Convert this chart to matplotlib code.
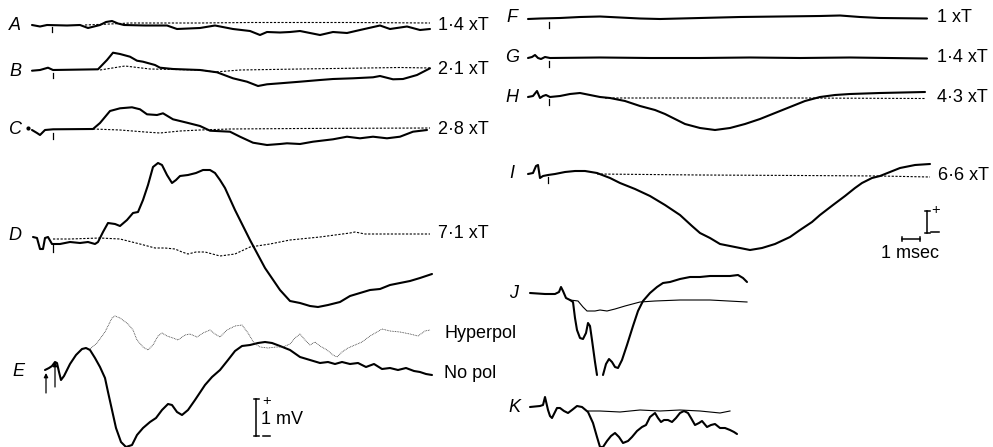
import matplotlib
matplotlib.use("Agg")
import matplotlib.pyplot as plt

plt.rcParams['font.family'] = ['Liberation Sans', 'DejaVu Sans']

# ---- trace readings (time position, trace level) ----
A_x = [32,40,47,67,80,88,100,106,112,118,124,145,167,177,200,215,233,250,260,267,280,290,300,320,333,347,360,380,390,407,420,430]
A_y = [25,26.5,25,25.5,25,28,25,22,21,23.5,25,25.5,25.5,29,28,25.5,29,31,35,32,32.5,32,31,35,32,33,30,25.5,29,26.5,30,29]
A_dx = [85,110,130,200,250,300,350,430]
A_dy = [25,24,23,23,22.5,22.5,22.5,23]

B_x = [32,40,48,53,98,107,113,120,130,137,143,155,160,173,200,217,233,247,258,267,280,300,320,333,353,373,380,393,403,417,430]
B_y = [70.7,70,67.7,70,69.3,60,52.7,54,56.7,60.7,61.7,65,67.7,69,70,72.3,78.3,81.7,86,84.3,83.3,81.7,80,79,78.3,77.3,76,79.3,79,75,68.3]
B_dx = [100,125,150,200,215,240,300,400,430]
B_dy = [70,66,69,70,72,70,69,67.5,68]

C_x = [32,37,40,45,53,93,100,110,120,132,140,147,157,163,173,187,200,210,230,240,253,267,280,287,300,313,333,347,360,373,387,400,413,427]
C_y = [130,133,135,130,129.3,129,123,111,108.3,107.3,109.3,114.3,115,113.3,119.3,122.7,126,130.7,131.7,136.7,142.7,145,144,143.3,144,141.7,139.3,136.7,138.3,136.7,138.3,136.7,131.7,130]
C_dx = [93,120,145,160,180,200,230,300,430]
C_dy = [129,130,132,133,131,130,129,128.5,128]

D_x = [33,37,40,43,45,48,52,60,70,80,88,95,98,103,108,115,120,127,133,138,143,148,153,158,162,167,172,176,180,188,196,203,210,215,220,225,235,250,265,280,290,300,310,318,328,340,350,360,370,380,390,400,410,420,432]
D_y = [237,238,249,249,238,237,244,244,242,243,242,244,242,232,223,224,226,220,213,212,200,185,167,163,165,175,183,180,176,175,173,170,170,173,180,188,210,240,268,290,301,303,306,307,305,302,296,293,290,289,285,283,281,278,274]
D_dx = [53,70,100,120,140,155,165,175,182,188,196,205,220,235,250,270,290,320,350,355,365,400,430]
D_dy = [239,239,238,239,244,248,248,249,252,254,252,252,256,254,247,244,240,237,233,232,234,234,234]

E_x = [45,49,52,55,57,59,61,64,70,76,82,86,90,95,100,105,108,112,116,121,126,132,137,143,150,156,162,168,172,177,182,188,195,205,212,220,228,235,242,250,258,265,272,280,290,300,310,320,328,335,342,350,358,366,374,382,390,398,406,414,420,426,432]
E_y = [370,368,366,362,363,372,380,376,364,355,349,348,350,358,367,378,392,410,428,442,447,445,435,428,422,418,410,404,405,412,415,410,400,385,377,370,360,351,346,345,343,342,343,346,350,357,360,363,362,364,362,364,363,367,364,369,368,370,368,371,372,374,375]
Eh_x = [90,97,105,112,115,120,128,133,137,143,148,153,158,162,167,173,178,185,190,197,203,210,215,220,227,235,242,248,254,260,268,276,283,290,295,300,305,310,315,320,327,333,337,342,348,355,362,370,377,382,390,400,410,418,425,430]
Eh_y = [349,343,332,318,316,318,324,330,340,347,350,345,336,333,336,338,340,335,334,337,333,330,334,337,330,326,325,333,343,347,348,347,347,344,338,334,340,345,342,346,350,355,357,352,348,345,342,336,332,329,331,332,334,336,331,330]

F_x = [528,540,560,580,600,620,640,660,700,740,780,820,840,860,880,927]
F_y = [19,18.5,18,17,16.5,17.5,18.5,19,18,17,16.5,16,15.5,17,18,18.5]

G_x = [528,532,535,538,541,545,550,600,650,700,750,800,850,927]
G_y = [58,57,55,58,59,57,58,57.5,58,58,57.5,58,57.5,58.5]

H_x = [528,533,537,540,543,546,550,560,570,580,590,600,610,625,640,655,665,675,685,700,715,730,745,760,775,790,805,820,835,850,880,925]
H_y = [97,96,91,98,96,95,97,96,94,93,95,97,98,101,106,110,114,119,124,128,130,128,124,119,113,107,101,97,95,94,93,92]
H_dx = [605,700,800,925]
H_dy = [98,98,98,98.5]

I_x = [528,533,536,538,540,543,548,555,565,575,585,597,610,620,635,650,665,680,692,700,710,720,735,750,762,775,790,800,812,820,833,845,855,862,872,880,890,900,915,930]
I_y = [174,173,166,165,178,176,175,174,172,171,171,173,178,183,189,196,205,215,226,233,238,244,247,250,248,244,237,230,222,215,205,196,188,183,178,176,172,168,165,164]
I_dx = [597,700,800,880,930]
I_dy = [174,175,175.5,176,177]

J_x1 = [530,545,555,559,561,563,566,570,573,575,577,580,583,586,588,590,592,595,597]
J_y1 = [293,294,294,292,287,291,298,300,302,318,330,338,339,333,323,326,340,362,375]
J_x2 = [603,606,609,612,615,618,622,627,633,638,643,650,657,663,670,680,690,700,710,720,730,738,743,747]
J_y2 = [375,364,359,362,367,368,360,345,326,311,301,293,287,283,282,279,277,277,276,276,276,275,278,282]
Jt_x = [570,578,583,587,595,600,607,615,625,640,655,680,710,747]
Jt_y = [300,301,307,311,311,310,311,309,306,302,301,300,300,302]

K_x = [530,540,543,545,548,550,552,557,560,564,568,572,577,582,588,593,597,600,603,607,611,615,619,623,628,632,637,642,646,650,655,658,661,664,668,672,676,680,684,688,691,695,699,702,707,711,715,720,725,730,734,737]
K_y = [407,406,405,397,410,416,418,408,408,411,413,410,406,407,412,423,437,447,447,441,436,433,437,443,441,437,431,427,425,417,413,418,422,420,420,422,418,413,411,413,418,425,423,421,427,425,424,428,428,430,432,434]
Kt_x = [588,600,620,640,660,680,700,720,730]
Kt_y = [411,411,412,410,411,410,411,413,411]

panel_letters = ['A', 'B', 'C', 'D', 'E', 'F', 'G', 'H', 'I', 'J', 'K']
strength_labels = ['1·4 xT', '2·1 xT', '2·8 xT', '7·1 xT', 'Hyperpol', 'No pol',
                   '1 xT', '1·4 xT', '4·3 xT', '6·6 xT']

# ---- layout ----
fig = plt.figure(figsize=(9.93, 4.47), dpi=100)
ax = fig.add_axes([0, 0, 1, 1])
ax.set_xlim(0, 993)
ax.set_ylim(447, 0)
ax.axis('off')

solid = dict(color='black', lw=1.5, solid_capstyle='round', solid_joinstyle='round')
thin = dict(color='black', lw=0.8)
dotted = dict(color='black', lw=0.8, linestyle=(0, (2.0, 1.4)))
fine_dot = dict(color='#333333', lw=0.6, linestyle=(0, (1.0, 1.0)))

for xs, ys in [(A_x, A_y), (B_x, B_y), (C_x, C_y), (D_x, D_y), (E_x, E_y),
               (F_x, F_y), (G_x, G_y), (H_x, H_y), (I_x, I_y),
               (J_x1, J_y1), (J_x2, J_y2), (K_x, K_y)]:
    ax.plot(xs, ys, **solid)
for xs, ys in [(A_dx, A_dy), (B_dx, B_dy), (C_dx, C_dy), (D_dx, D_dy),
               (H_dx, H_dy), (I_dx, I_dy)]:
    ax.plot(xs, ys, **dotted)
ax.plot(Eh_x, Eh_y, **fine_dot)
ax.plot(Jt_x, Jt_y, **thin)
ax.plot(Kt_x, Kt_y, **thin)

# stimulus ticks
for x, y0, y1 in [(52, 27, 32), (53, 73, 78), (53, 133, 139), (53, 245, 252),
                  (549, 22, 28), (549, 61, 67), (549, 99, 105), (548, 177, 183)]:
    ax.plot([x, x], [y0, y1], color='black', lw=0.9)
ax.plot([28], [128], 'o', color='black', ms=2)

# arrows in E
for x, y0, y1 in [(46, 393, 373), (55, 387, 362)]:
    ax.annotate('', xy=(x, y1), xytext=(x, y0),
                arrowprops=dict(arrowstyle='-|>', color='black', lw=0.9,
                                mutation_scale=6, shrinkA=0, shrinkB=0))

# panel letters
fs = 13
letter_pos = [(15, 25), (15, 71), (15, 129), (15, 235), (18, 372),
              (512, 18), (512, 57), (512, 97), (512, 174), (514, 293), (514, 407)]
for t, (x, y) in zip(panel_letters, letter_pos):
    ax.text(x, y, t, fontsize=fs, style='italic', ha='center', va='center')

label_pos = [(438, 25), (438, 70), (438, 129), (438, 234), (444, 333), (444, 374),
             (937, 18), (937, 58), (937, 98), (938, 175)]
for t, (x, y) in zip(strength_labels, label_pos):
    ax.text(x, y, t, fontsize=fs, ha='left', va='center')

# scale bars
def vbar(x, y0, y1, w):
    ax.plot([x, x], [y0, y1], color='black', lw=1.1)
    ax.plot([x - w, x + w], [y0, y0], color='black', lw=1.1)
    ax.plot([x - w, x + w], [y1, y1], color='black', lw=1.1)

vbar(256, 399, 436, 2.5)
ax.text(262, 401, '+', fontsize=10.5, ha='left', va='center')
ax.text(261, 419, '1 mV', fontsize=fs, ha='left', va='center')
ax.plot([263, 270], [436, 436], color='black', lw=1.1)

vbar(927, 211, 233, 2.5)
ax.text(931, 210, '+', fontsize=10.5, ha='left', va='center')
ax.plot([931, 939], [232, 232], color='black', lw=1.1)
ax.plot([902, 920], [239, 239], color='black', lw=1.1)
ax.plot([902, 902], [237, 241], color='black', lw=1.1)
ax.plot([920, 920], [237, 241], color='black', lw=1.1)
ax.text(910, 253, '1 msec', fontsize=fs, ha='center', va='center')

fig.savefig('out.png', dpi=100)
